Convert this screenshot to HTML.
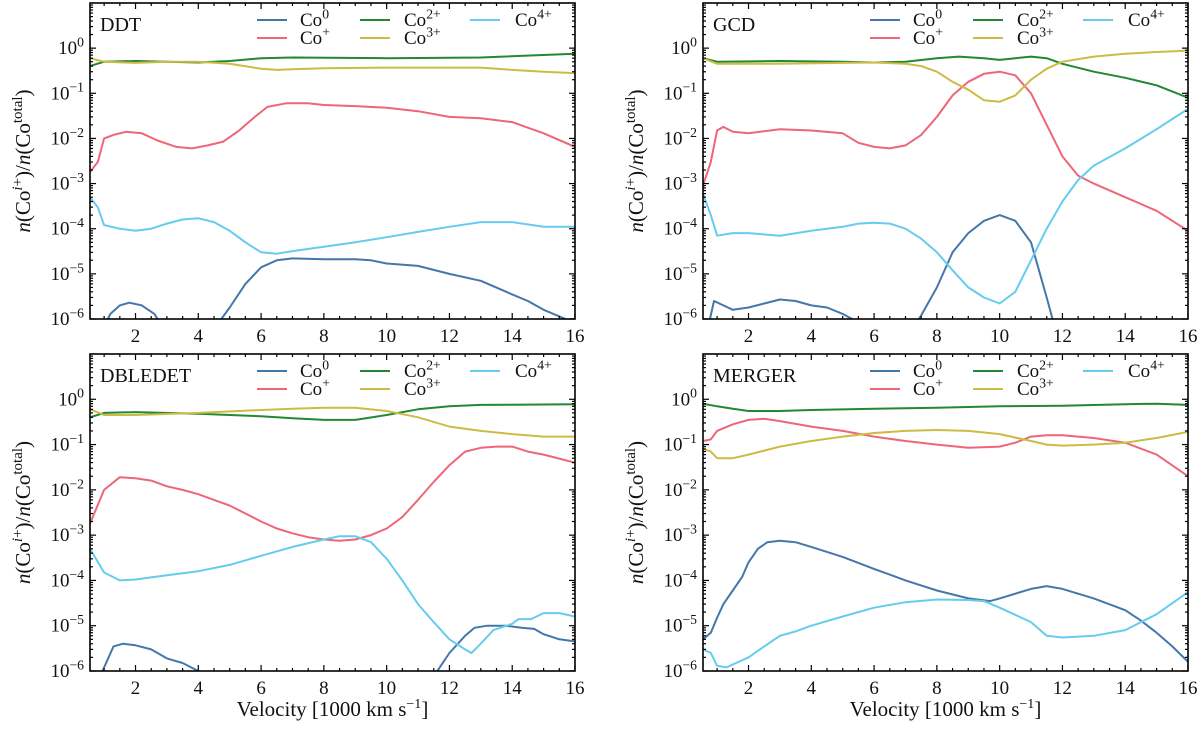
<!DOCTYPE html>
<html><head><meta charset="utf-8"><style>
html,body{margin:0;padding:0;background:#fff}
svg{display:block}
text{font-family:"Liberation Serif","DejaVu Serif",serif;fill:#111}
</style></head><body>
<svg id="fig" width="1200" height="732" viewBox="0 0 1200 732"></svg>
<script>
// ---- data (velocity in 1000 km/s, fractions) ----
const ddt_co0_x=[0.9,1.2,1.5,1.8,2.2,2.6,2.9, 4.5,5,5.5,6,6.5,7,8,9,9.5,10,11,12,13,14,14.5,15,15.7,16];
const ddt_co0_y=[5e-7,1.3e-6,2e-6,2.3e-6,2e-6,1.3e-6,6e-7, 6e-7,1.8e-6,6e-6,1.4e-5,2e-5,2.2e-5,2.1e-5,2.1e-5,2e-5,1.7e-5,1.5e-5,1e-5,7e-6,3.5e-6,2.5e-6,1.6e-6,1e-6,6e-7];
const ddt_co1_x=[0.55,0.8,1,1.3,1.7,2.2,2.7,3.3,3.8,4.3,4.8,5.3,5.8,6.2,6.8,7.5,8,9,10,11,12,13,14,15,16];
const ddt_co1_y=[1.8e-3,3e-3,1e-2,1.2e-2,1.4e-2,1.3e-2,9e-3,6.5e-3,6e-3,7e-3,8.5e-3,1.5e-2,3e-2,5e-2,6e-2,6e-2,5.5e-2,5.2e-2,4.8e-2,4e-2,3e-2,2.8e-2,2.3e-2,1.3e-2,6.5e-3];
const ddt_co2_x=[0.55,1,2,3,4,5,6,7,10,13,16];
const ddt_co2_y=[0.4,0.5,0.52,0.5,0.48,0.52,0.6,0.62,0.6,0.62,0.75];
const ddt_co3_x=[0.55,1,2,3,4,5,6,6.5,7,8,10,13,14,15,16];
const ddt_co3_y=[0.6,0.5,0.47,0.5,0.5,0.45,0.35,0.33,0.34,0.36,0.37,0.37,0.33,0.3,0.28];
const ddt_co4_x=[0.55,0.8,1,1.5,2,2.5,3,3.5,4,4.5,5,5.5,6,6.5,7,8,9,10,11,12,13,14,15,16];
const ddt_co4_y=[5e-4,3e-4,1.2e-4,1e-4,9e-5,1e-4,1.3e-4,1.6e-4,1.7e-4,1.4e-4,9e-5,5e-5,3e-5,2.8e-5,3.2e-5,4e-5,5e-5,6.5e-5,8.5e-5,1.1e-4,1.4e-4,1.4e-4,1.1e-4,1.1e-4];

const gcd_co0_x=[0.7,0.9,1.2,1.5,2,2.5,3,3.5,4,4.5,5,5.3,5.6, 7.2,7.5,8,8.5,9,9.5,10,10.5,11,11.5,11.8];
const gcd_co0_y=[6e-7,2.5e-6,2e-6,1.6e-6,1.8e-6,2.2e-6,2.7e-6,2.5e-6,2e-6,1.8e-6,1.3e-6,1e-6,6e-7, 6e-7,1.2e-6,5e-6,3e-5,8e-5,1.5e-4,2e-4,1.5e-4,5e-5,3e-6,5e-7];
const gcd_co1_x=[0.55,0.8,1,1.2,1.5,2,3,4,5,5.5,6,6.5,7,7.5,8,8.5,9,9.5,10,10.5,11,11.5,12,12.5,13,14,15,16];
const gcd_co1_y=[9e-4,3e-3,1.5e-2,1.8e-2,1.4e-2,1.3e-2,1.6e-2,1.5e-2,1.3e-2,8e-3,6.5e-3,6e-3,7e-3,1.2e-2,3e-2,9e-2,0.18,0.27,0.3,0.25,0.1,0.02,4e-3,1.5e-3,1e-3,5e-4,2.5e-4,9e-5];
const gcd_co2_x=[0.55,1,3,5,6,7,8,8.7,9.5,10,10.5,11,11.5,12,13,14,15,16];
const gcd_co2_y=[0.6,0.5,0.52,0.5,0.48,0.5,0.6,0.65,0.6,0.55,0.6,0.65,0.6,0.45,0.3,0.22,0.15,0.08];
const gcd_co3_x=[0.55,1,3,5,6,7,7.5,8,8.5,9,9.5,10,10.5,11,11.5,12,13,14,15,16];
const gcd_co3_y=[0.6,0.45,0.45,0.47,0.48,0.45,0.4,0.3,0.18,0.12,0.07,0.065,0.09,0.2,0.35,0.5,0.65,0.75,0.82,0.88];
const gcd_co4_x=[0.55,0.8,1,1.5,2,3,4,5,5.5,6,6.5,7,7.5,8,8.5,9,9.5,10,10.5,11,11.5,12,12.5,13,14,15,16];
const gcd_co4_y=[6e-4,2e-4,7e-5,8e-5,8e-5,7e-5,9e-5,1.1e-4,1.3e-4,1.35e-4,1.3e-4,1e-4,6e-5,3e-5,1.2e-5,5e-6,3e-6,2.2e-6,4e-6,2e-5,1e-4,4e-4,1.2e-3,2.5e-3,6e-3,1.6e-2,4.5e-2];

const dbl_co0_x=[0.8,1,1.3,1.6,2,2.5,3,3.5,4,4.3, 11.4,12,12.5,12.8,13.2,13.8,14.3,14.7,15,15.5,16];
const dbl_co0_y=[6e-7,1.2e-6,3.5e-6,4e-6,3.7e-6,3e-6,1.9e-6,1.5e-6,1e-6,7e-7, 6e-7,2.5e-6,6e-6,9e-6,1e-5,1e-5,9e-6,8.5e-6,6.5e-6,5e-6,4.5e-6];
const dbl_co1_x=[0.55,1,1.5,2,2.5,3,3.5,4,4.5,5,5.5,6,6.5,7,7.5,8,8.5,9,9.5,10,10.5,11,11.5,12,12.5,13,13.5,14,14.5,15,16];
const dbl_co1_y=[1.8e-3,1e-2,1.9e-2,1.8e-2,1.6e-2,1.2e-2,1e-2,8e-3,6e-3,4.5e-3,3e-3,2e-3,1.4e-3,1.1e-3,9e-4,8e-4,7.5e-4,8e-4,1e-3,1.4e-3,2.5e-3,6e-3,1.5e-2,3.5e-2,7e-2,8.5e-2,9e-2,9e-2,7e-2,6e-2,4e-2];
const dbl_co2_x=[0.55,1,2,4,6,7,8,9,10,11,12,13,14,16];
const dbl_co2_y=[0.4,0.5,0.52,0.48,0.42,0.38,0.35,0.35,0.45,0.6,0.7,0.75,0.76,0.78];
const dbl_co3_x=[0.55,1,2,4,6,7,8,9,10,11,12,13,14,15,16];
const dbl_co3_y=[0.6,0.45,0.45,0.5,0.58,0.62,0.65,0.65,0.55,0.4,0.25,0.2,0.17,0.15,0.15];
const dbl_co4_x=[0.55,1,1.5,2,3,4,5,6,7,8,8.5,9,9.5,10,10.5,11,11.5,12,12.5,12.7,13,13.4,14,14.2,14.6,15,15.5,16];
const dbl_co4_y=[5e-4,1.5e-4,1e-4,1.05e-4,1.3e-4,1.6e-4,2.2e-4,3.5e-4,5.5e-4,8e-4,9.5e-4,9.5e-4,7e-4,3e-4,1e-4,3e-5,1.2e-5,5e-6,3e-6,2.5e-6,4e-6,8e-6,1.1e-5,1.4e-5,1.4e-5,1.9e-5,1.9e-5,1.6e-5];

const mrg_co0_x=[0.55,0.8,1,1.2,1.5,1.8,2,2.3,2.6,3,3.5,4,5,6,7,8,9,9.7,10,11,11.5,12,13,14,14.5,15,15.5,16];
const mrg_co0_y=[5e-6,7e-6,1.5e-5,3e-5,6e-5,1.2e-4,2.5e-4,5e-4,7e-4,7.5e-4,7e-4,5.5e-4,3.3e-4,1.8e-4,1e-4,6e-5,4e-5,3.5e-5,4e-5,6.5e-5,7.5e-5,6.5e-5,4e-5,2.2e-5,1.3e-5,7e-6,3.5e-6,1.6e-6];
const mrg_co1_x=[0.55,0.8,1,1.5,2,2.5,3,4,5,6,7,8,9,10,10.5,11,11.5,12,13,14,15,16];
const mrg_co1_y=[0.12,0.13,0.2,0.28,0.35,0.37,0.33,0.25,0.2,0.15,0.12,0.1,0.085,0.09,0.11,0.15,0.16,0.16,0.14,0.11,0.06,0.02];
const mrg_co2_x=[0.55,1,1.5,2,3,4,6,8,10,12,14,15,16];
const mrg_co2_y=[0.8,0.7,0.62,0.55,0.55,0.58,0.62,0.65,0.7,0.72,0.78,0.8,0.75];
const mrg_co3_x=[0.55,0.8,1,1.5,2,3,4,5,6,7,8,9,10,11,11.5,12,13,14,15,16];
const mrg_co3_y=[0.08,0.07,0.05,0.05,0.06,0.09,0.12,0.15,0.18,0.2,0.21,0.2,0.17,0.12,0.1,0.095,0.1,0.11,0.14,0.19];
const mrg_co4_x=[0.55,0.8,1,1.3,1.6,2,2.5,3,3.5,4,5,6,7,8,9,9.5,10,11,11.5,12,13,14,15,16];
const mrg_co4_y=[3e-6,2.5e-6,1.3e-6,1.2e-6,1.5e-6,2e-6,3.5e-6,6e-6,7.5e-6,1e-5,1.6e-5,2.5e-5,3.3e-5,3.8e-5,3.7e-5,3.5e-5,2.5e-5,1.2e-5,6e-6,5.5e-6,6e-6,8e-6,1.8e-5,5.5e-5];

const panelNames=["DDT","GCD","DBLEDET","MERGER"];
const xTicks=[2,4,6,8,10,12,14,16];
const yTickExps=[0,-1,-2,-3,-4,-5,-6];
const colors=["#4477AA","#EE6677","#228833","#CCBB44","#66CCEE"];
const seriesLabels=["0","+","2+","3+","4+"];
const panelSeries=[
 [[ddt_co0_x,ddt_co0_y],[ddt_co1_x,ddt_co1_y],[ddt_co2_x,ddt_co2_y],[ddt_co3_x,ddt_co3_y],[ddt_co4_x,ddt_co4_y]],
 [[gcd_co0_x,gcd_co0_y],[gcd_co1_x,gcd_co1_y],[gcd_co2_x,gcd_co2_y],[gcd_co3_x,gcd_co3_y],[gcd_co4_x,gcd_co4_y]],
 [[dbl_co0_x,dbl_co0_y],[dbl_co1_x,dbl_co1_y],[dbl_co2_x,dbl_co2_y],[dbl_co3_x,dbl_co3_y],[dbl_co4_x,dbl_co4_y]],
 [[mrg_co0_x,mrg_co0_y],[mrg_co1_x,mrg_co1_y],[mrg_co2_x,mrg_co2_y],[mrg_co3_x,mrg_co3_y],[mrg_co4_x,mrg_co4_y]]
];

const NS="http://www.w3.org/2000/svg";
const svg=document.getElementById('fig');
function mk(tag,attrs,parent){const e=document.createElementNS(NS,tag);for(const k in attrs)e.setAttribute(k,attrs[k]);(parent||svg).appendChild(e);return e;}
const X0=0.55,X1=16,LMIN=-6,LMAX=1;
const boxes=[{l:90,t:3,w:485,h:316},{l:703,t:3,w:485,h:316},{l:90,t:354,w:485,h:317},{l:703,t:354,w:485,h:317}];

function sup(t,base,s,fs){t.appendChild(document.createTextNode(base));const ts=document.createElementNS(NS,'tspan');ts.setAttribute('dy',-fs*0.4);ts.setAttribute('font-size',fs*0.72);ts.textContent=s;t.appendChild(ts);}

boxes.forEach((b,pi)=>{
  const g=mk('g',{});
  
  
  const sx=v=>b.l+(v-X0)/(X1-X0)*b.w;
  const sy=v=>b.t+(LMAX-Math.log10(v))/(LMAX-LMIN)*b.h;
  const cid='clip'+pi;
  const cp=mk('clipPath',{id:cid},g);mk('rect',{x:b.l,y:b.t,width:b.w,height:b.h},cp);
  [0,1,2,3,4].forEach(si=>{
    const [xs,ys]=panelSeries[pi][si];
    let d='';
    for(let i=0;i<xs.length;i++){
      d+=(i===0?'M':'L')+sx(xs[i]).toFixed(1)+','+sy(ys[i]).toFixed(1);
    }
    const p=mk('path',{d:d,fill:'none',stroke:colors[si],'stroke-width':2,'stroke-linejoin':'round','clip-path':'url(#'+cid+')'},g);
    
    
  });
  const fr=mk('rect',{x:b.l,y:b.t,width:b.w,height:b.h,fill:'none',stroke:'#000','stroke-width':1.6},g);
  
  
  for(let v=1;v<=16.001;v+=0.5){
    const major=xTicks.includes(v);const L=major?6:3;const x=sx(v);
    mk('line',{x1:x,x2:x,y1:b.t+b.h,y2:b.t+b.h-L,stroke:'#000','stroke-width':1.2},g);
    mk('line',{x1:x,x2:x,y1:b.t,y2:b.t+L,stroke:'#000','stroke-width':1.2},g);
  }
  xTicks.forEach(v=>{
    const t=mk('text',{x:sx(v),y:b.t+b.h+23,'font-size':19,'text-anchor':'middle'},g);
    t.textContent=v;
    
    
  });
  for(let e=LMIN;e<LMAX;e++){
    for(let m=1;m<10;m++){
      const v=m*Math.pow(10,e);const y=sy(v);const L=m===1?6:3;
      mk('line',{x1:b.l,x2:b.l+L,y1:y,y2:y,stroke:'#000','stroke-width':1.2},g);
      mk('line',{x1:b.l+b.w,x2:b.l+b.w-L,y1:y,y2:y,stroke:'#000','stroke-width':1.2},g);
    }
  }
  yTickExps.forEach(e=>{
    const t=mk('text',{x:b.l-6,y:sy(Math.pow(10,e))+6,'font-size':19,'text-anchor':'end'},g);
    sup(t,'10',e===0?'0':'\u2212'+(-e),19);
    
    
  });
  const tt=mk('text',{x:b.l+10,y:b.t+28,'font-size':20},g);
  tt.textContent=panelNames[pi];
  
  
  const lg=mk('g',{},g);
  
  
  const cols=[167,270,380],txt=[210,314,425];
  seriesLabels.forEach((lab,si)=>{
    const c=Math.floor(si/2),r=si%2;const y=b.t+17+r*18;
    const e=mk('g',{},lg);
    
    
    mk('line',{x1:b.l+cols[c],x2:b.l+cols[c]+30,y1:y,y2:y,stroke:colors[si],'stroke-width':2},e);
    const t=mk('text',{x:b.l+txt[c],y:y+6,'font-size':19},e);
    sup(t,'Co',lab,19);
  });
  const cx=b.l-60,cy=b.t+b.h/2;
  const yt=mk('text',{x:cx,y:cy,'font-size':21,'text-anchor':'middle',transform:'rotate(-90 '+cx+' '+cy+')'},g);
  
  
  const a=document.createElementNS(NS,'tspan');a.setAttribute('font-style','italic');a.textContent='n';yt.appendChild(a);
  yt.appendChild(document.createTextNode('(Co'));
  let s=document.createElementNS(NS,'tspan');s.setAttribute('dy',-8);s.setAttribute('font-size',15);s.innerHTML='<tspan font-style="italic">i</tspan>+';yt.appendChild(s);
  s=document.createElementNS(NS,'tspan');s.setAttribute('dy',8);s.textContent=')/';yt.appendChild(s);
  s=document.createElementNS(NS,'tspan');s.setAttribute('font-style','italic');s.textContent='n';yt.appendChild(s);
  yt.appendChild(document.createTextNode('(Co'));
  s=document.createElementNS(NS,'tspan');s.setAttribute('dy',-8);s.setAttribute('font-size',15);s.textContent='total';yt.appendChild(s);
  s=document.createElementNS(NS,'tspan');s.setAttribute('dy',8);s.textContent=')';yt.appendChild(s);
  if(pi>=2){
    const xt=mk('text',{x:b.l+b.w/2,y:716,'font-size':21,'text-anchor':'middle'},g);
    
    
    xt.appendChild(document.createTextNode('Velocity [1000 km s'));
    const q=document.createElementNS(NS,'tspan');q.setAttribute('dy',-8);q.setAttribute('font-size',14);q.textContent='\u22121';xt.appendChild(q);
    const r=document.createElementNS(NS,'tspan');r.setAttribute('dy',8);r.textContent=']';xt.appendChild(r);
  }
});
</script>
</body></html>
